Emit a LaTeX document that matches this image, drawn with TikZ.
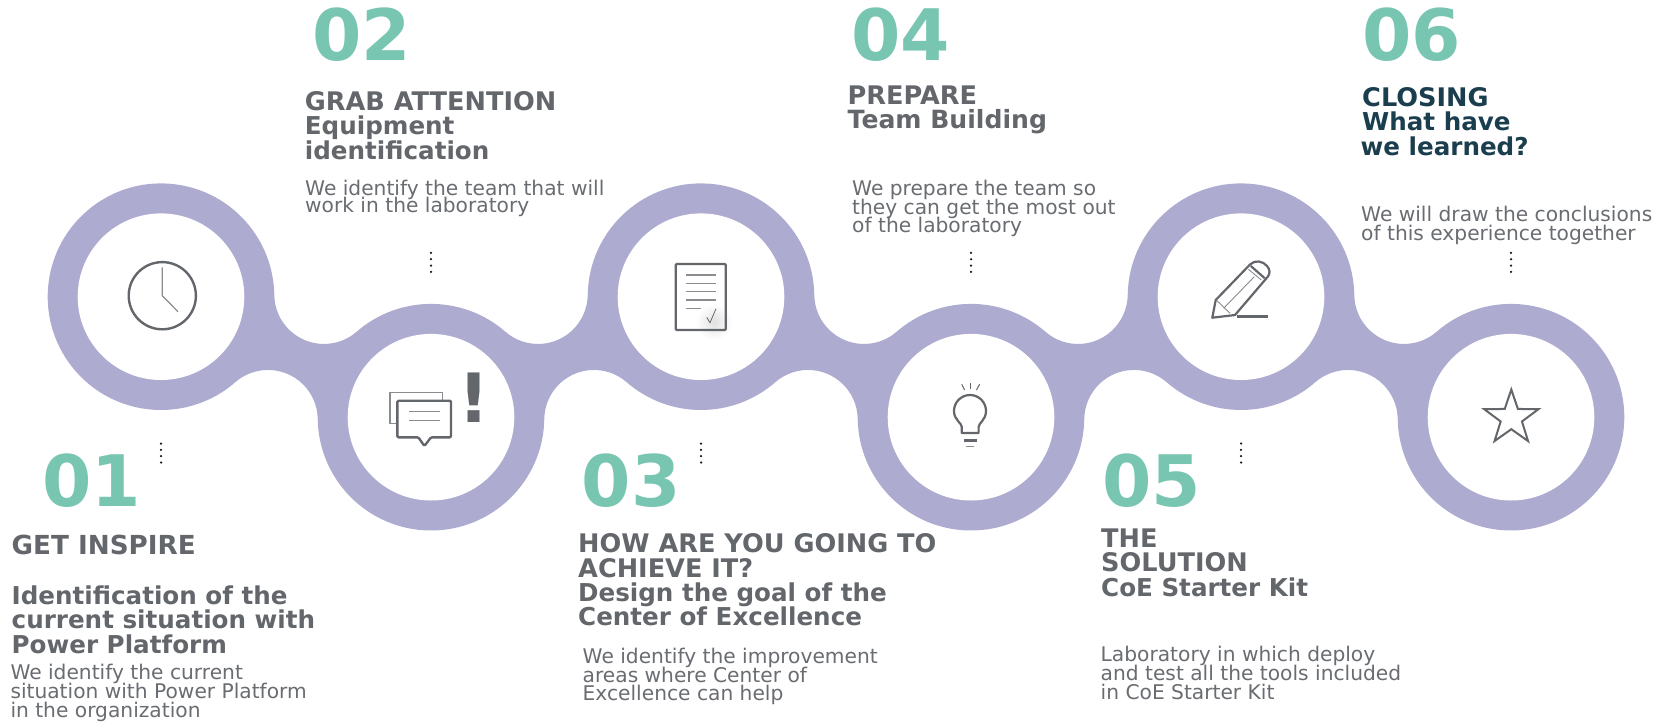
\documentclass[tikz,border=0pt]{standalone}
\usepackage{fontspec}
\setmainfont{DejaVu Sans}
\definecolor{ringcol}{HTML}{AEABD1}
\definecolor{numcol}{HTML}{78C6B2}
\definecolor{headcol}{HTML}{63666B}
\definecolor{bodycol}{HTML}{696C71}
\definecolor{darkcol}{HTML}{1B3E4E}
\definecolor{iconcol}{HTML}{63666B}
\definecolor{thincol}{HTML}{8A8C90}
\newcommand{\setfnt}[2]{\fontsize{#1}{#2}\selectfont\lineskiplimit=-1000pt\relax}
\newcommand{\capsline}[2][25.6]{{\fontsize{#1}{24.2}\selectfont #2}}
\tikzset{
  hole/.style={circle,fill=white,draw=none,minimum size=166.6pt,inner sep=0pt},
  numtext/.style={anchor=base west,inner sep=0pt,text=numcol,font=\setfnt{71}{71}\bfseries},
  headtext/.style={anchor=base west,inner sep=0pt,text=headcol,align=left,font=\setfnt{24.6}{24.2}\bfseries},
  bodytext/.style={anchor=base west,inner sep=0pt,text=bodycol,align=left,font=\setfnt{20.2}{18.7}},
  dotline/.style={draw=black!90,line width=2.5pt,line cap=round,dash pattern=on 0pt off 6.33pt},
  iconthick/.style={draw=iconcol,line width=2.4pt,line join=round},
  iconthin/.style={draw=thincol,line width=1.1pt}
}
\begin{document}
\begin{tikzpicture}[x=1pt,y=-1pt]
\useasboundingbox (0,0) rectangle (1667,721);
\fill[white] (0,0) rectangle (1667,721);
\def\ru{113.3}
\def\rf{49.7}
% chain of rings
\fill[ringcol] (161,296.7) ++(48.96:\ru)
  arc[start angle=48.96,end angle=359.14,radius=\ru]
  arc[start angle=179.14,end angle=48.96,radius=\rf]
  arc[start angle=228.96,end angle=311.04,radius=\ru]
  arc[start angle=131.04,end angle=0.86,radius=\rf]
  arc[start angle=180.86,end angle=359.14,radius=\ru]
  arc[start angle=179.14,end angle=48.96,radius=\rf]
  arc[start angle=228.96,end angle=311.04,radius=\ru]
  arc[start angle=131.04,end angle=0.86,radius=\rf]
  arc[start angle=180.86,end angle=359.14,radius=\ru]
  arc[start angle=179.14,end angle=48.96,radius=\rf]
  arc[start angle=228.96,end angle=539.14,radius=\ru]
  arc[start angle=359.14,end angle=228.96,radius=\rf]
  arc[start angle=48.96,end angle=131.04,radius=\ru]
  arc[start angle=311.04,end angle=180.86,radius=\rf]
  arc[start angle=0.86,end angle=179.14,radius=\ru]
  arc[start angle=359.14,end angle=228.96,radius=\rf]
  arc[start angle=48.96,end angle=131.04,radius=\ru]
  arc[start angle=311.04,end angle=180.86,radius=\rf]
  arc[start angle=0.86,end angle=179.14,radius=\ru]
  arc[start angle=359.14,end angle=228.96,radius=\rf]
  -- cycle;
\node[hole] (c1) at (161,296.7) {};
\node[hole] (c2) at (431,417.2) {};
\node[hole] (c3) at (701,296.7) {};
\node[hole] (c4) at (971,417.2) {};
\node[hole] (c5) at (1241,296.7) {};
\node[hole] (c6) at (1511,417.2) {};
% clock
\draw[iconthick] (162.3,295.7) circle[radius=33.6];
\draw[draw=thincol,line width=1.2pt] (162.3,267.3) -- (162.3,295.7) -- (178,311.7);
% speech bubbles
\draw[draw=thincol,line width=1.1pt] (442.7,400) -- (442.7,392.3) -- (390,392.3) -- (390,423.3) -- (397,423.3);
\draw[iconthick,rounded corners=1.2pt] (397.3,400.7) -- (451,400.7) -- (451,437.3) -- (431,437.3) -- (424.4,446) -- (418.3,437.3) -- (397.3,437.3) -- cycle;
\draw[iconthin] (409,411.7) -- (440,411.7);
\draw[iconthin] (409,420.7) -- (440,420.7);
\node[anchor=base,inner sep=0pt,text=iconcol,font=\setfnt{68}{68}\bfseries] (excl) at (474.2,422.3) {!};
% document
\shade[inner color=black!12,outer color=white] (714,322) circle[radius=18];
\draw[iconthick,rounded corners=1pt] (675.7,264) rectangle (725.7,330);
\draw[iconthin] (686,275) -- (716,275);
\draw[iconthin] (686,283.3) -- (716,283.3);
\draw[iconthin] (686,291.7) -- (716,291.7);
\draw[iconthin] (686,300) -- (716,300);
\draw[iconthin] (686,308.7) -- (701,308.7);
\draw[draw=iconcol,line width=0.8pt] (706.7,317.3) -- (710,322.7) -- (716,308.7);
% bulb
\draw[iconthick,line width=2.2pt] (961.8,427) .. controls (961.8,423) and (954,420) .. (954,411)
  arc[start angle=180,end angle=360,radius=16]
  .. controls (986,420) and (978.6,423) .. (978.6,427) -- (978.6,433) -- (961.8,433) -- cycle;
\draw[draw=iconcol,line width=3.4pt] (964.3,440.7) -- (976.8,440.7);
\draw[draw=thincol,line width=1.3pt] (966.4,446.3) -- (974.3,446.3);
\draw[draw=iconcol,line width=1pt] (970,383.3) -- (970,389.3);
\draw[draw=iconcol,line width=1pt] (961.8,384.3) -- (964.6,390);
\draw[draw=iconcol,line width=1pt] (979.6,384.3) -- (976.4,390);
% pencil
\draw[iconthick,line width=2.2pt] (1212.3,317.7) -- (1215.7,300) -- (1250,264.5)
  .. controls (1255,259.5) and (1263,261) .. (1267,266)
  .. controls (1270.5,270) and (1270,274) .. (1267.5,277) -- (1235,315) -- cycle;
\draw[iconthick,line width=2.2pt] (1250.8,266) -- (1264.8,278.3);
\draw[draw=thincol,line width=0.9pt] (1248.4,269.3) -- (1261.3,280);
\draw[draw=thincol,line width=0.9pt] (1254.3,276.7) -- (1223.6,308.3);
\draw[draw=thincol,line width=0.9pt] (1217,300.7) -- (1230,313.3);
\draw[draw=iconcol,line width=2.6pt] (1236.7,316.7) -- (1267.7,316.7);
% star
\draw[iconthick,line width=2pt,line join=miter] (1511.3,418) +(-90:28.5) -- +(-54:11.2) -- +(-18:28.5) -- +(18:11.2) -- +(54:28.5) -- +(90:11.2) -- +(126:28.5) -- +(162:11.2) -- +(198:28.5) -- +(234:11.2) -- cycle;
% dotted leaders
\coordinate (d1a) at (161,443.5);  \coordinate (d1b) at (161,462.5);
\coordinate (d2a) at (431,252.9);  \coordinate (d2b) at (431,271.9);
\coordinate (d3a) at (701,443.5);  \coordinate (d3b) at (701,462.5);
\coordinate (d4a) at (971,252.9);  \coordinate (d4b) at (971,271.9);
\coordinate (d5a) at (1241,443.5); \coordinate (d5b) at (1241,462.5);
\coordinate (d6a) at (1511,252.9); \coordinate (d6b) at (1511,271.9);
\draw[dotline] (d1a) -- (d1b);
\draw[dotline] (d2a) -- (d2b);
\draw[dotline] (d3a) -- (d3b);
\draw[dotline] (d4a) -- (d4b);
\draw[dotline] (d5a) -- (d5b);
\draw[dotline] (d6a) -- (d6b);
% numbers
\node[numtext] (n1) at (42,506) {01};
\node[numtext] (n2) at (312,60) {02};
\node[numtext] (n3) at (581.5,506) {03};
\node[numtext] (n4) at (851,60) {04};
\node[numtext] (n5) at (1102,506) {05};
\node[numtext] (n6) at (1362,60) {06};
% headings (placed by the baseline of their last line)
\node[headtext] (h1) at (11.5,653) {\capsline[26.2]{GET INSPIRE}\\[26pt]Identification of the\\current situation with\\Power Platform};
\node[headtext] (h2) at (304.7,159) {\capsline{GRAB ATTENTION}\\Equipment\\identification};
\node[headtext] (h3) at (578,625.5) {\capsline{HOW ARE YOU GOING TO}\\\capsline{ACHIEVE IT?}\\Design the goal of the\\Center of Excellence};
\node[headtext] (h4) at (847.5,128.3) {\capsline{PREPARE}\\\capsline[25.1]{Team Building}};
\node[headtext] (h5) at (1101,596) {\capsline{THE}\\\capsline{SOLUTION}\\CoE Starter Kit};
\node[headtext,text=darkcol,align=left] (h6) at (1362,155) {\capsline{CLOSING}\\What have\\\hspace*{-1.5pt}we learned?};
% body texts (placed by the baseline of their last line)
\node[bodytext] (b1) at (10.3,717.3) {We identify the current\\situation with Power Platform\\in the organization};
\node[bodytext,font=\setfnt{20.2}{17.7}] (b2) at (305,212.7) {We identify the team that will\\work in the laboratory};
\node[bodytext] (b3) at (582.5,700.7) {We identify the improvement\\areas where Center of\\Excellence can help};
\node[bodytext] (b4) at (852,232.7) {We prepare the team so\\they can get the most out\\of the laboratory};
\node[bodytext,font=\setfnt{20.2}{19}] (b5) at (1100.5,699) {Laboratory in which deploy\\and test all the tools included\\in CoE Starter Kit};
\node[bodytext,font=\setfnt{20.2}{19}] (b6) at (1361,240.7) {We will draw the conclusions\\of this experience together};
\end{tikzpicture}
\end{document}
